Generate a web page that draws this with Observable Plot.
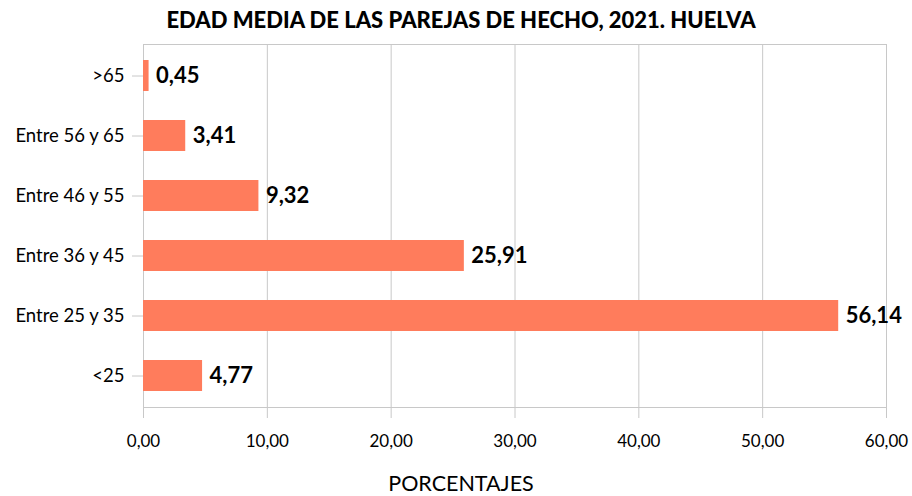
<!DOCTYPE html>
<html><head><meta charset="utf-8">
<script src="https://cdn.jsdelivr.net/npm/d3@7"></script>
<script src="https://cdn.jsdelivr.net/npm/@observablehq/plot@0.6"></script>
<style>
body{margin:0;background:#fff;font-family:Lato,"Open Sans",sans-serif;}
#title{height:40px;line-height:40px;text-align:center;font-weight:900;font-size:22px;color:#000;padding-left:10px;}
#xlabel{height:26px;line-height:26px;text-align:center;font-size:21.5px;color:#000;padding-left:10px;}
#chart svg{display:block;}
</style></head>
<body>
<div id="title">EDAD MEDIA DE LAS PAREJAS DE HECHO, 2021. HUELVA</div>
<div id="chart"></div>
<div id="xlabel">PORCENTAJES</div>
<script>
const categories = [">65", "Entre 56 y 65", "Entre 46 y 55", "Entre 36 y 45", "Entre 25 y 35", "<25"];
const values = [0.45, 3.41, 9.32, 25.91, 56.14, 4.77];
const xTicks = [0, 10, 20, 30, 40, 50, 60];
const data = categories.map((c, i) => ({cat: c, val: values[i]}));
const fmt = v => v.toFixed(2).replace(".", ",");
const grid = "#c8c8c8";
const chart = Plot.plot({
  width: 912, height: 430,
  marginLeft: 143, marginRight: 26, marginTop: 4, marginBottom: 63,
  style: {fontFamily: "Lato, 'Open Sans', sans-serif", fontSize: "17px", color: "#000", background: "#fff"},
  x: {domain: [0, 60], ticks: xTicks, tickFormat: fmt, label: null},
  y: {domain: categories, paddingInner: 0.49, paddingOuter: 0.245, label: null},
  marks: [
    Plot.gridX(xTicks, {stroke: grid, strokeOpacity: 1}),
    Plot.frame({stroke: grid}),
    Plot.barX(data, {x: "val", y: "cat", fill: "#ff7c5c"}),
    Plot.text(data, {x: "val", y: "cat", text: d => fmt(d.val), textAnchor: "start", dx: 7, fontWeight: "bold", fontSize: 22, fill: "#000"}),
    Plot.axisX(xTicks, {tickSize: 11, tickPadding: 16, stroke: grid, tickFormat: fmt, fill: "#000", label: null}),
    Plot.axisY({tickSize: 11, tickPadding: 8, stroke: grid, fill: "#000", fontSize: 18.5, label: null})
  ]
});
document.getElementById("chart").appendChild(chart);
</script>
</body></html>
